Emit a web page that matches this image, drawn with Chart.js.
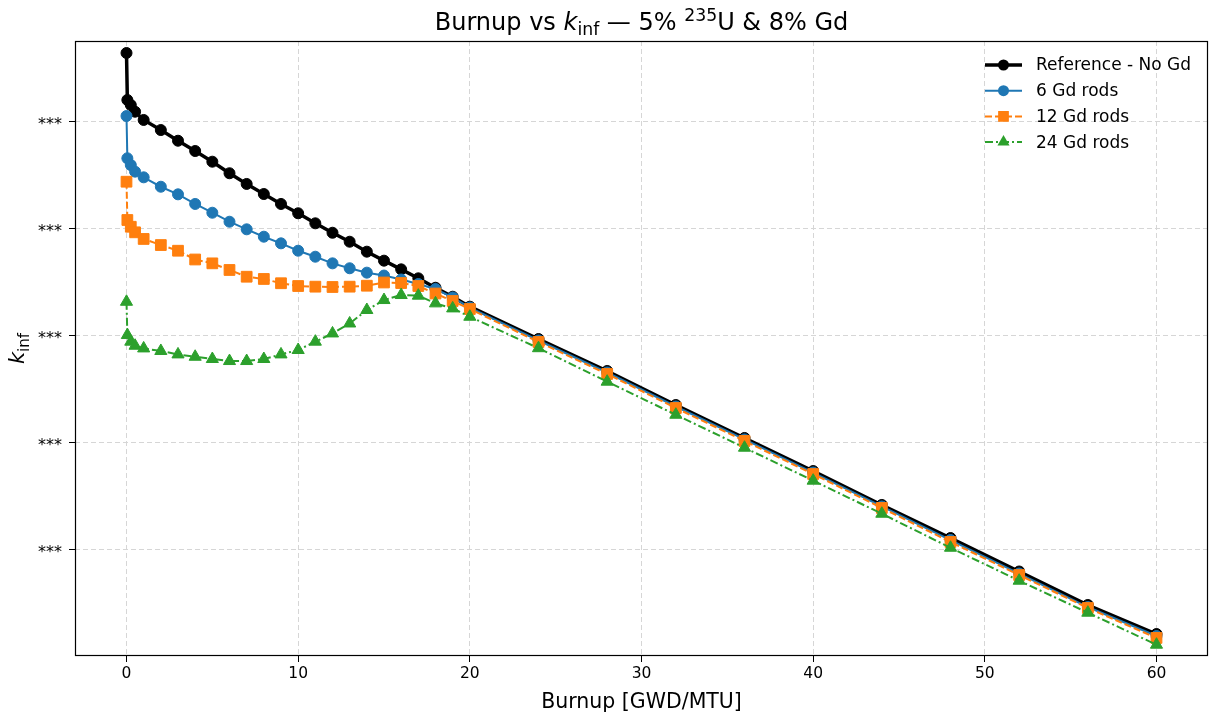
<!DOCTYPE html>
<html>
<head>
<meta charset="utf-8">
<title>Burnup vs k_inf</title>
<script src="https://cdn.jsdelivr.net/npm/chart.js@4.4.1/dist/chart.umd.min.js"></script>
<style>
  html, body { margin: 0; padding: 0; background: #ffffff; }
  #wrap { width: 1211px; height: 713px; }
</style>
</head>
<body>
<div id="wrap"><canvas id="chart" width="1211" height="713"></canvas></div>
<script>
// Burnup steps [GWD/MTU]
const burnup = [0, 0.05, 0.25, 0.5, 1, 2, 3, 4, 5, 6, 7, 8, 9, 10, 11, 12, 13, 14, 15, 16, 17, 18, 19, 20,
                24, 28, 32, 36, 40, 44, 48, 52, 56, 60];

// k_inf for each assembly design
const kRef = [1.3645, 1.3206, 1.3159, 1.3096, 1.3019, 1.2925, 1.2825, 1.2729, 1.2629, 1.2521, 1.2421, 1.2327,
              1.2234, 1.2147, 1.2053, 1.1965, 1.1881, 1.1788, 1.1704, 1.1623, 1.1539, 1.1451, 1.1367, 1.1274,
              1.0972, 1.0673, 1.0355, 1.0047, 0.9738, 0.9421, 0.9112, 0.8799, 0.8486, 0.8215];
const k6Gd = [1.3056, 1.2661, 1.2598, 1.2536, 1.2483, 1.2395, 1.2324, 1.2234, 1.2152, 1.2068, 1.1997, 1.1928,
              1.1866, 1.1797, 1.1741, 1.1679, 1.1633, 1.1592, 1.1565, 1.1528, 1.1486, 1.1439, 1.1360, 1.1266,
              1.0958, 1.0659, 1.0341, 1.0033, 0.9724, 0.9407, 0.9093, 0.8780, 0.8467, 0.8196];
const k12Gd = [1.2442, 1.2084, 1.2021, 1.1969, 1.1907, 1.1850, 1.1797, 1.1715, 1.1679, 1.1617, 1.1554, 1.1533,
               1.1493, 1.1467, 1.1461, 1.1458, 1.1461, 1.1470, 1.1500, 1.1495, 1.1467, 1.1397, 1.1327, 1.1252,
               1.0944, 1.0645, 1.0327, 1.0019, 0.9710, 0.9393, 0.9075, 0.8766, 0.8458, 0.8178];
const k24Gd = [1.1320, 1.1009, 1.0947, 1.0909, 1.0884, 1.0860, 1.0828, 1.0806, 1.0785, 1.0766, 1.0766, 1.0785,
               1.0828, 1.0869, 1.0947, 1.1024, 1.1117, 1.1243, 1.1336, 1.1383, 1.1377, 1.1305, 1.1258, 1.1180,
               1.0886, 1.0573, 1.0264, 0.9956, 0.9648, 0.9339, 0.9021, 0.8713, 0.8414, 0.8115];

const seriesNames = ['Reference - No Gd', '6 Gd rods', '12 Gd rods', '24 Gd rods'];
const xTicks = [0, 10, 20, 30, 40, 50, 60];
const yTicks = [0.9, 1.0, 1.1, 1.2, 1.3];
const yTickLabels = ['***', '***', '***', '***', '***'];

const FONT = '"DejaVu Sans", "Liberation Sans", sans-serif';

function pts(ys) { return burnup.map((x, i) => ({ x: x, y: ys[i] })); }

const styles = [
  { color: '#000000', width: 3.5, dash: [], marker: 'circle', r: 5.5 },
  { color: '#1f77b4', width: 2, dash: [], marker: 'circle', r: 5.5 },
  { color: '#ff7f0e', width: 2, dash: [7, 3], marker: 'rect', r: 7.6 },
  { color: '#2ca02c', width: 2, dash: [8, 3, 2, 3], marker: 'triangle', r: 7 }
];
const seriesData = [kRef, k6Gd, k12Gd, k24Gd];

const datasets = seriesData.map((ys, i) => ({
  label: seriesNames[i],
  data: pts(ys),
  borderColor: styles[i].color,
  backgroundColor: styles[i].color,
  borderWidth: styles[i].width,
  borderDash: styles[i].dash,
  pointStyle: styles[i].marker,
  pointRadius: styles[i].r,
  pointBorderWidth: 1,
  pointBorderColor: styles[i].color,
  pointBackgroundColor: styles[i].color,
  tension: 0,
  order: 4 - i
}));

// Draws a run of text pieces (font / vertical shift per piece) starting at x
function richWidth(ctx, parts) {
  let w = 0;
  parts.forEach(p => { ctx.font = p.font; w += ctx.measureText(p.text).width; });
  return w;
}
function drawRich(ctx, parts, x, y) {
  let cx = x;
  parts.forEach(p => {
    ctx.font = p.font;
    ctx.fillText(p.text, cx, y + (p.dy || 0));
    cx += ctx.measureText(p.text).width;
  });
}

function drawMarker(ctx, style, x, y) {
  ctx.save();
  ctx.fillStyle = style.color;
  ctx.setLineDash([]);
  ctx.beginPath();
  const r = style.r;
  if (style.marker === 'circle') {
    ctx.arc(x, y, r, 0, Math.PI * 2);
  } else if (style.marker === 'rect') {
    const s = Math.SQRT1_2 * r;
    ctx.rect(x - s, y - s, 2 * s, 2 * s);
  } else {
    ctx.moveTo(x, y - r);
    ctx.lineTo(x - r * Math.sqrt(3) / 2, y + r / 2);
    ctx.lineTo(x + r * Math.sqrt(3) / 2, y + r / 2);
    ctx.closePath();
  }
  ctx.fill();
  ctx.restore();
}

const decorations = {
  id: 'decorations',
  afterDraw(chart) {
    const ctx = chart.ctx;
    const area = chart.chartArea;
    ctx.save();

    // axes frame
    ctx.strokeStyle = '#000000';
    ctx.lineWidth = 1.2;
    ctx.setLineDash([]);
    ctx.strokeRect(Math.round(area.left) + 0.5, Math.round(area.top) + 0.5,
                   Math.round(area.right - area.left) - 1, Math.round(area.bottom - area.top) - 1);

    ctx.fillStyle = '#000000';
    ctx.textBaseline = 'alphabetic';
    ctx.textAlign = 'left';

    // title
    const T = 24;
    const titleParts = [
      { text: 'Burnup vs ', font: `${T}px ${FONT}` },
      { text: 'k', font: `italic ${T}px ${FONT}` },
      { text: 'inf', font: `${(T * 0.72).toFixed(1)}px ${FONT}`, dy: T * 0.2 },
      { text: ' \u2014 5% ', font: `${T}px ${FONT}` },
      { text: '235', font: `${(T * 0.72).toFixed(1)}px ${FONT}`, dy: -T * 0.36 },
      { text: 'U & 8% Gd', font: `${T}px ${FONT}` }
    ];
    const cxTitle = (area.left + area.right) / 2;
    const tw = richWidth(ctx, titleParts);
    drawRich(ctx, titleParts, cxTitle - tw / 2, 30);

    // y-axis label
    const Y = 21;
    const yParts = [
      { text: 'k', font: `italic ${Y}px ${FONT}` },
      { text: 'inf', font: `${(Y * 0.72).toFixed(1)}px ${FONT}`, dy: Y * 0.22 }
    ];
    const yw = richWidth(ctx, yParts);
    ctx.save();
    ctx.translate(24, (area.top + area.bottom) / 2);
    ctx.rotate(-Math.PI / 2);
    drawRich(ctx, yParts, -yw / 2, 0);
    ctx.restore();

    // x-axis label
    ctx.font = `20.5px ${FONT}`;
    ctx.textAlign = 'center';
    ctx.textBaseline = 'alphabetic';
    ctx.fillText('Burnup [GWD/MTU]', cxTitle, 708);

    // legend
    const lx0 = 985, lx1 = 1022, ly0 = 65, dy = 25.7;
    styles.forEach((st, i) => {
      const y = ly0 + i * dy;
      ctx.save();
      ctx.strokeStyle = st.color;
      ctx.lineWidth = st.width;
      ctx.setLineDash(st.dash);
      ctx.beginPath();
      ctx.moveTo(lx0, y);
      ctx.lineTo(lx1, y);
      ctx.stroke();
      ctx.restore();
      drawMarker(ctx, st, (lx0 + lx1) / 2, y);
      ctx.fillStyle = '#000000';
      ctx.font = `17px ${FONT}`;
      ctx.textAlign = 'left';
      ctx.textBaseline = 'middle';
      ctx.fillText(seriesNames[i], 1036, y + 1);
    });

    ctx.restore();
  }
};

function gridOpts() {
  return {
    color: '#d6d6d6',
    lineWidth: 1,
    tickColor: '#000000',
    tickBorderDash: [],
    tickLength: 6,
    tickWidth: 1,
    drawTicks: true
  };
}
function borderOpts() {
  return { display: false, dash: [5, 3], color: '#000000', width: 1 };
}

new Chart(document.getElementById('chart'), {
  type: 'line',
  data: { datasets: datasets },
  plugins: [decorations],
  options: {
    responsive: false,
    animation: false,
    devicePixelRatio: 1,
    layout: { autoPadding: false, padding: { top: 41, right: 3, left: 0, bottom: 0 } },
    plugins: { legend: { display: false }, title: { display: false }, tooltip: { enabled: false } },
    scales: {
      x: {
        type: 'linear',
        min: -3,
        max: 63,
        afterBuildTicks: s => { s.ticks = xTicks.map(v => ({ value: v })); },
        afterFit: s => { s.height = 57; s.paddingLeft = 0; s.paddingRight = 0; },
        ticks: { color: '#000000', font: { family: FONT, size: 15.5 }, padding: 3, maxRotation: 0,
                 callback: v => String(v) },
        grid: gridOpts(),
        border: borderOpts()
      },
      y: {
        type: 'linear',
        min: 0.80093,
        max: 1.3757,
        afterBuildTicks: s => { s.ticks = yTicks.map(v => ({ value: v })); },
        afterFit: s => { s.width = 75; s.paddingTop = 0; s.paddingBottom = 0; },
        ticks: { color: '#000000', font: { family: FONT, size: 16 }, padding: 7, labelOffset: 3,
                 callback: (v, i) => yTickLabels[i] },
        grid: gridOpts(),
        border: borderOpts()
      }
    }
  }
});
</script>
</body>
</html>
